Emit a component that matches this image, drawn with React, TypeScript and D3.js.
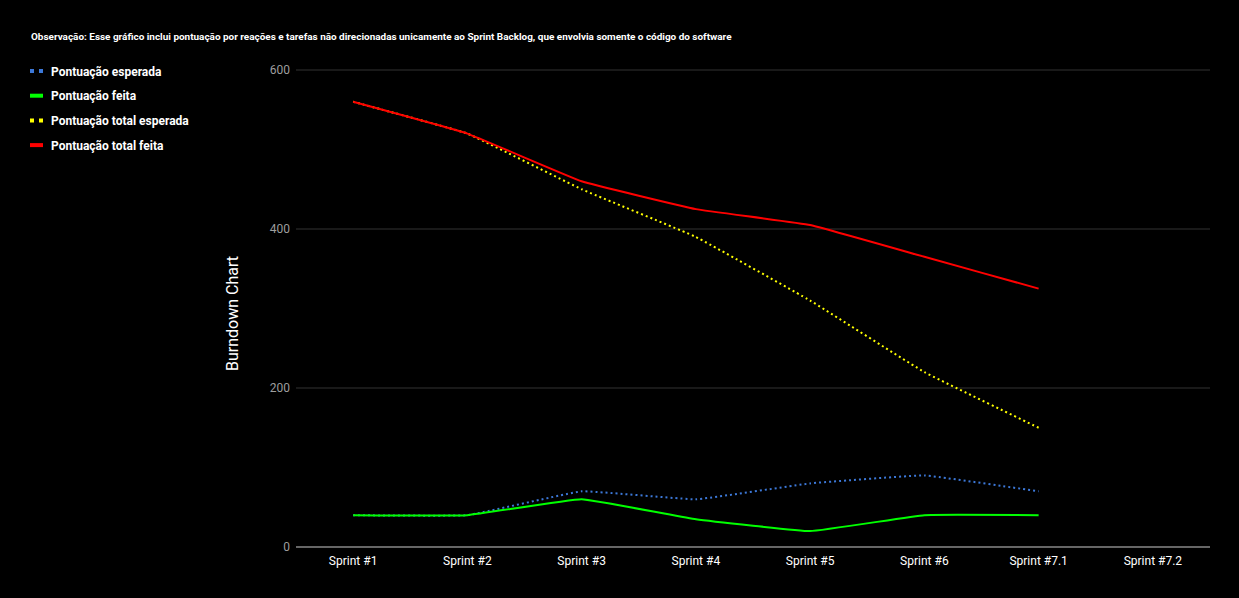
import React from "react";
import * as d3 from "d3";

const categories = ["Sprint #1", "Sprint #2", "Sprint #3", "Sprint #4", "Sprint #5", "Sprint #6", "Sprint #7.1", "Sprint #7.2"];
const pontuacaoEsperada = [40, 40, 70, 60, 80, 90, 70, null];
const pontuacaoFeita = [40, 40, 60, 35, 20, 40, 40, null];
const pontuacaoTotalEsperada = [560, 520, 450, 390, 310, 220, 150, null];
const pontuacaoTotalFeita = [560, 520, 460, 425, 405, 365, 325, null];
const yTicks = [0, 200, 400, 600];

const title = "Observação: Esse gráfico inclui pontuação por reações e tarefas não direcionadas unicamente ao Sprint Backlog, que envolvia somente o código do software";

const series = [
  { name: "Pontuação esperada", values: pontuacaoEsperada, color: "#3c78d8", dashed: true },
  { name: "Pontuação feita", values: pontuacaoFeita, color: "#00ff00", dashed: false },
  { name: "Pontuação total esperada", values: pontuacaoTotalEsperada, color: "#ffff00", dashed: true },
  { name: "Pontuação total feita", values: pontuacaoTotalFeita, color: "#ff0000", dashed: false },
];

const W = 1239;
const H = 598;
const left = 296;
const right = 1210;
const top = 70;
const bottom = 547;

export default function App() {
  const x = d3.scaleBand<string>().domain(categories).range([left, right]);
  const y = d3.scaleLinear().domain([0, 600]).range([bottom, top]);
  const cx = (c: string) => (x(c) as number) + x.bandwidth() / 2;

  const lineGen = d3
    .line<[string, number | null]>()
    .defined((d) => d[1] != null)
    .x((d) => cx(d[0]))
    .y((d) => y(d[1] as number))
    .curve(d3.curveCardinal.tension(0.75));

  const font = "Roboto, Arial, sans-serif";

  return (
    <svg width={W} height={H} style={{ position: "absolute", left: 0, top: 0, background: "#000" }}>
      <rect x={0} y={0} width={W} height={H} fill="#000" />
      <text x={31} y={40} fill="#fff" fontFamily={font} fontSize={9.95} fontWeight="bold">
        {title}
      </text>
      {series.map((s, i) => {
        const ly = 71 + i * 24.7;
        return (
          <g key={s.name}>
            {s.dashed ? (
              <line x1={30} x2={43} y1={ly} y2={ly} stroke={s.color} strokeWidth={4} strokeDasharray="4,5" />
            ) : (
              <line x1={30} x2={43} y1={ly} y2={ly} stroke={s.color} strokeWidth={4} />
            )}
            <text x={51} y={ly + 4.5} fill="#fff" fontFamily={font} fontSize={12} fontWeight="bold">
              {s.name}
            </text>
          </g>
        );
      })}
      {yTicks.map((t) => (
        <g key={t}>
          <line x1={left} x2={right} y1={y(t)} y2={y(t)} stroke={t === 0 ? "#cccccc" : "#333333"} strokeWidth={1} />
          <text x={290} y={y(t) + 4} textAnchor="end" fill="#9e9e9e" fontFamily={font} fontSize={12}>
            {t}
          </text>
        </g>
      ))}
      {categories.map((c) => (
        <text key={c} x={cx(c)} y={565} textAnchor="middle" fill="#fff" fontFamily={font} fontSize={12}>
          {c}
        </text>
      ))}
      <text
        transform={`translate(238, ${(top + bottom) / 2 + 5}) rotate(-90)`}
        textAnchor="middle"
        fill="#fff"
        fontFamily={font}
        fontSize={16}
      >
        Burndown Chart
      </text>
      {series.map((s) => (
        <path
          key={s.name}
          d={lineGen(categories.map((c, i) => [c, s.values[i]] as [string, number | null])) || ""}
          fill="none"
          stroke={s.color}
          strokeWidth={2}
          strokeDasharray={s.dashed ? "2,3" : undefined}
        />
      ))}
    </svg>
  );
}
